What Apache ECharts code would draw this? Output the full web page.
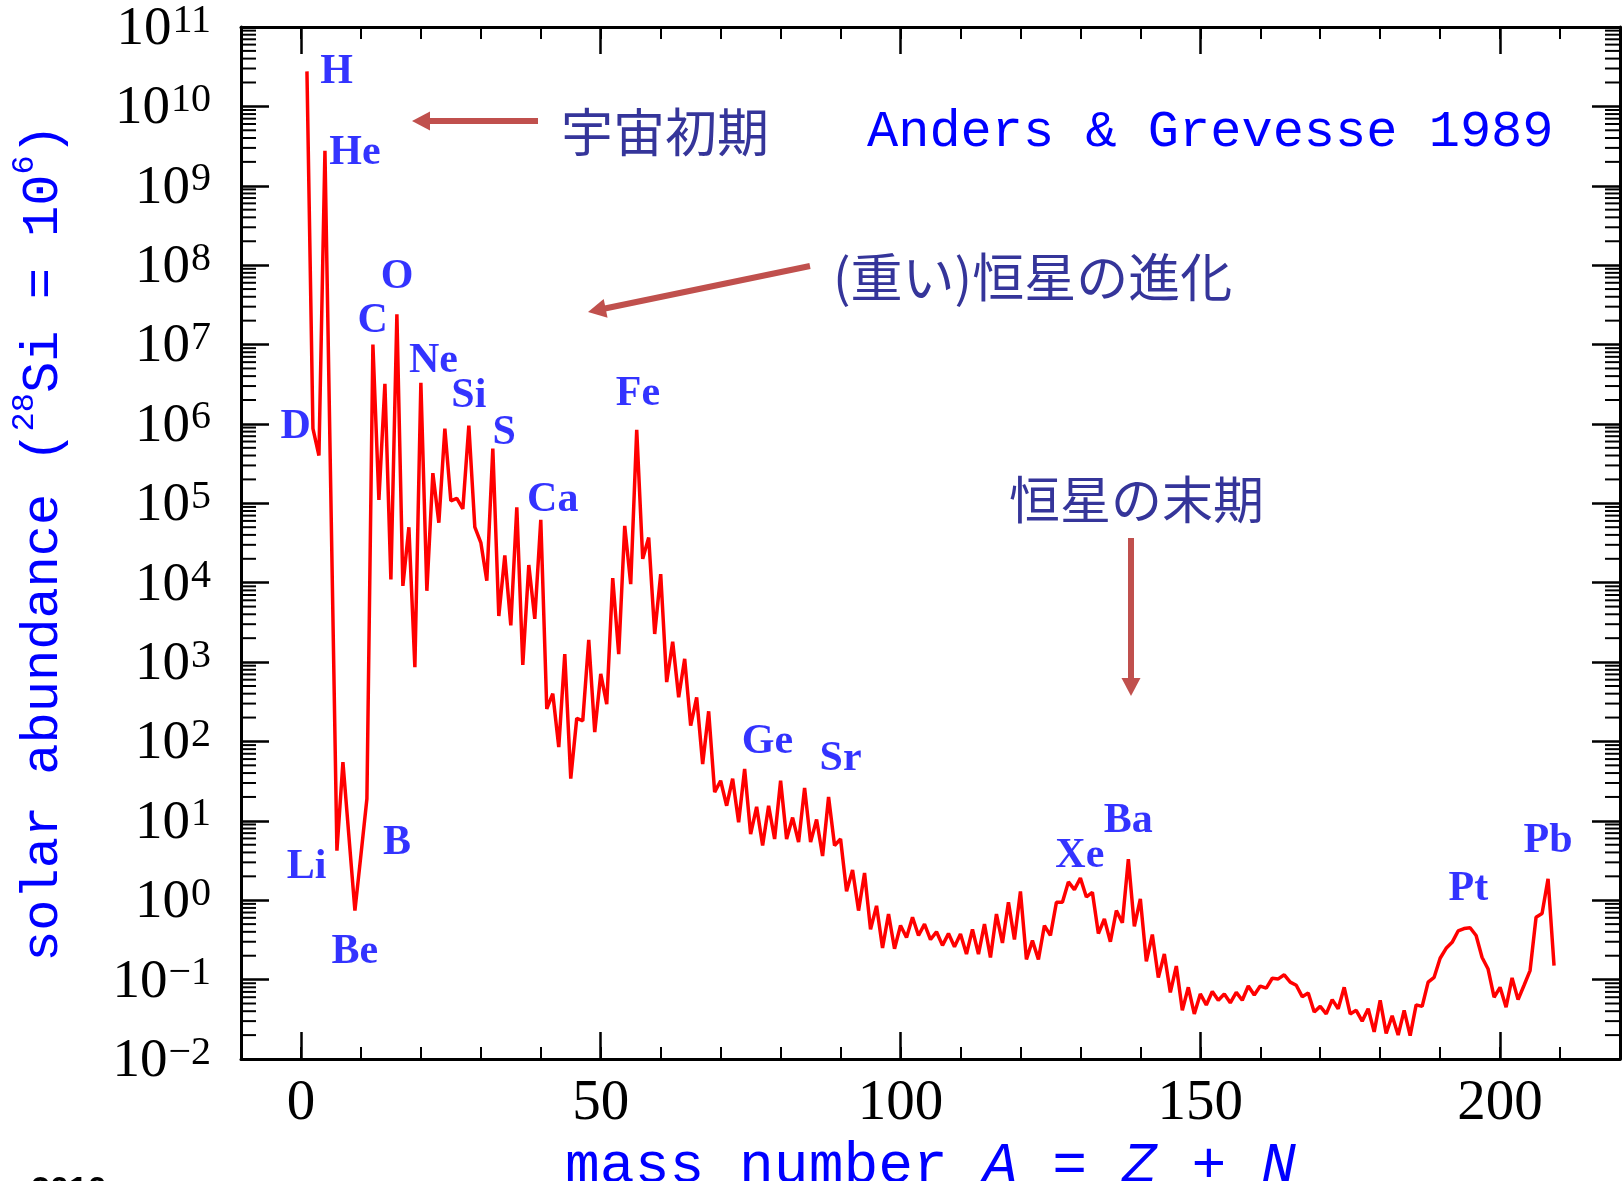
<!DOCTYPE html>
<html><head><meta charset="utf-8">
<script src="https://cdn.jsdelivr.net/npm/echarts@6/dist/echarts.min.js"></script>
<style>html,body{margin:0;padding:0;background:#fff}#c{width:1622px;height:1181px}</style>
</head><body><div id="c"></div>
<script>
// ---- data (solar abundance, Si = 1e6) ----
const massNumbers = [
  1,2,3,4,6,7,9,10,11,
  12,13,14,15,16,17,18,19,20,21,
  22,23,24,25,26,27,28,29,30,31,
  32,33,34,35,36,37,38,39,40,41,
  42,43,44,45,46,47,48,49,50,51,
  52,53,54,55,56,57,58,59,60,61,
  62,63,64,65,66,67,68,69,70,71,
  72,73,74,75,76,77,78,79,80,81,
  82,83,84,85,86,87,88,89,90,91,
  92,93,94,95,96,97,98,99,100,101,
  102,103,104,105,106,107,108,109,110,111,
  112,113,114,115,116,117,118,119,120,121,
  122,123,124,125,126,127,128,129,130,131,
  132,133,134,135,136,137,138,139,140,141,
  142,143,144,145,146,147,148,149,150,151,
  152,153,154,155,156,157,158,159,160,161,
  162,163,164,165,166,167,168,169,170,171,
  172,173,174,175,176,177,178,179,180,181,
  182,183,184,185,186,187,188,189,190,191,
  192,193,194,195,196,197,198,199,200,201,
  202,203,204,205,206,207,208,209
];
const abundances = [
  2.76e10, 8.7e5, 4.0e5, 2.75e9, 4.2, 55, 0.74, 3.7, 19,
  1.0e7, 1.1e5, 3.2e6, 1.1e4, 2.4e7, 9.1e3, 5.0e4, 860, 3.3e6, 7.9e3,
  2.4e5, 5.7e4, 8.7e5, 1.07e5, 1.15e5, 8.5e4, 9.5e5, 5.0e4, 3.2e4, 1.06e4,
  4.9e5, 3.8e3, 2.2e4, 2.9e3, 8.9e4, 920, 1.67e4, 3.5e3, 6.2e4, 257,
  400, 85, 1260, 34, 196, 182, 1900, 131, 710, 296,
  1.14e4, 1260, 5.2e4, 9600, 8.4e5, 2.0e4, 3.7e4, 2260, 1.28e4, 560,
  1800, 360, 1100, 158, 360, 52, 240, 23, 32, 15.5,
  34, 9.6, 45, 6.8, 15, 4.9, 15.5, 5.9, 32, 5.9,
  11, 5.4, 26, 5.4, 10.4, 3.6, 20, 4.9, 5.9, 1.3,
  2.4, 0.74, 2.2, 0.43, 0.85, 0.25, 0.67, 0.245, 0.48, 0.34,
  0.61, 0.36, 0.50, 0.32, 0.40, 0.27, 0.38, 0.26, 0.375, 0.21,
  0.43, 0.21, 0.50, 0.19, 0.67, 0.29, 0.94, 0.32, 1.29, 0.18,
  0.31, 0.18, 0.48, 0.36, 0.94, 0.94, 1.7, 1.36, 1.9, 1.1,
  1.26, 0.38, 0.58, 0.30, 0.74, 0.52, 3.3, 0.47, 1.04, 0.17,
  0.37, 0.106, 0.21, 0.069, 0.148, 0.041, 0.080, 0.037, 0.066, 0.048,
  0.071, 0.055, 0.066, 0.051, 0.069, 0.055, 0.083, 0.064, 0.083, 0.078,
  0.104, 0.102, 0.115, 0.093, 0.085, 0.061, 0.068, 0.039, 0.046, 0.037,
  0.056, 0.043, 0.080, 0.037, 0.041, 0.030, 0.043, 0.022, 0.055, 0.021,
  0.035, 0.020, 0.041, 0.0197, 0.048, 0.046, 0.093, 0.107, 0.186, 0.248,
  0.295, 0.41, 0.44, 0.45, 0.36, 0.19, 0.136, 0.060, 0.080, 0.045,
  0.105, 0.056, 0.085, 0.13, 0.61, 0.68, 1.86, 0.15
];
// element labels (anchored in data space)
const elementNames = ['H','He','D','Li','Be','B','C','O','Ne','Si','S','Ca','Fe','Ge','Sr','Xe','Ba','Pt','Pb'];
const elementLabelA = [5.95, 9.0, -0.9, 0.95, 9.0, 16.0, 11.95, 16.05, 22.1, 28.0, 33.9, 42.0, 56.2, 77.8, 90.0, 129.9, 138.0, 194.7, 208.0];
const elementLabelY = [2.7e10, 2.6e9, 9.2e5, 2.6, 0.225, 5.2, 1.95e7, 7.1e7, 6.1e6, 2.25e6, 7.6e5, 1.1e5, 2.4e6, 97, 60, 3.6, 9.8, 1.38, 5.6];
// axes
const xTickValues = [0, 50, 100, 150, 200];
const xMin = -10, xMax = 220;
const yMin = 1e-2, yMax = 1e11;
const minorFactors = [2,3,4,5,6,7,8,9];

const ARROW = '#c0504d';
const JP = '#35359a';
const BLUE = '#0000ff';

const minorYTicks = [];
for (let e = -2; e < 11; e++) for (const k of minorFactors) minorYTicks.push([xMin, k * Math.pow(10, e)]);

function arrow(x1, y1, x2, y2) {
  const dx = x2 - x1, dy = y2 - y1, L = Math.hypot(dx, dy);
  const ux = dx / L, uy = dy / L, hl = 18, hw = 9.5;
  const bx = x2 - ux * hl, by = y2 - uy * hl;
  return [
    { type: 'line', shape: { x1, y1, x2: bx + ux * 2, y2: by + uy * 2 }, style: { stroke: ARROW, lineWidth: 6 }, z: 50 },
    { type: 'polygon', shape: { points: [[x2, y2], [bx - uy * hw, by + ux * hw], [bx + uy * hw, by - ux * hw]] }, style: { fill: ARROW }, z: 50 }
  ];
}
function gtext(text, x, y, font, color, align) {
  return { type: 'text', x: x, y: y, z: 50, style: { text, font, fill: color, textAlign: align || 'left', textVerticalAlign: 'middle' } };
}

const chart = echarts.init(document.getElementById('c'), null, { renderer: 'canvas' });
const axLine = { onZero: false, lineStyle: { color: '#000', width: 3 } };
const noLine = { show: false, onZero: false };
const yLabelRich = {
  b: { fontFamily: 'Liberation Serif', fontSize: 55, color: '#000', lineHeight: 60, verticalAlign: 'bottom' },
  s: { fontFamily: 'Liberation Serif', fontSize: 40, color: '#000', lineHeight: 40, verticalAlign: 'top', padding: [4, 0, 0, 1] }
};
const option = {
  animation: false,
  backgroundColor: '#fff',
  grid: { left: 241, right: 2, top: 27, bottom: 122, containLabel: false, outerBoundsMode: 'none' },
  xAxis: [
    { type: 'value', min: xMin, max: xMax, interval: 10, position: 'bottom',
      axisLine: axLine, splitLine: { show: false },
      axisTick: { inside: true, length: 12, lineStyle: { color: '#000', width: 2 } },
      axisLabel: { customValues: xTickValues, fontFamily: 'Liberation Serif', fontSize: 57, color: '#000', margin: 17 },
      name: '{m|mass number }{i|A}{m| = }{i|Z}{m| + }{i|N}', nameLocation: 'middle', nameGap: 78,
      nameTextStyle: { color: BLUE, rich: {
        m: { fontFamily: 'Liberation Mono', fontSize: 58, color: BLUE },
        i: { fontFamily: 'Liberation Mono', fontStyle: 'italic', fontSize: 58, color: BLUE } } } },
    { type: 'value', min: xMin, max: xMax, position: 'bottom', axisLine: noLine, splitLine: { show: false },
      axisTick: { customValues: xTickValues, inside: true, length: 27, lineStyle: { color: '#000', width: 2.5 } },
      axisLabel: { show: false } },
    { type: 'value', min: xMin, max: xMax, interval: 10, position: 'top',
      axisLine: axLine, splitLine: { show: false },
      axisTick: { inside: true, length: 12, lineStyle: { color: '#000', width: 2 } },
      axisLabel: { show: false } },
    { type: 'value', min: xMin, max: xMax, position: 'top', axisLine: noLine, splitLine: { show: false },
      axisTick: { customValues: xTickValues, inside: true, length: 27, lineStyle: { color: '#000', width: 2.5 } },
      axisLabel: { show: false } }
  ],
  yAxis: [
    { type: 'log', logBase: 10, min: yMin, max: yMax, interval: 1, position: 'left',
      axisLine: axLine, splitLine: { show: false }, minorTick: { show: false },
      axisTick: { inside: true, length: 28, lineStyle: { color: '#000', width: 2.5 } },
      axisLabel: { margin: 30, align: 'right',
        formatter: function (v) { const e = Math.round(Math.log10(v)); return '{b|10}{s|' + (e < 0 ? '\u2212' + (-e) : e) + '}'; },
        rich: yLabelRich },
      name: '{m|solar abundance (}{s|28}{m|Si = 10}{s|6}{m|)}', nameLocation: 'middle', nameRotate: 90, nameGap: 172,
      nameTextStyle: { color: BLUE, rich: {
        m: { fontFamily: 'Liberation Mono', fontSize: 52, color: BLUE, lineHeight: 60, verticalAlign: 'bottom' },
        s: { fontFamily: 'Liberation Mono', fontSize: 32, color: BLUE, lineHeight: 32, verticalAlign: 'top' } } } },
    { type: 'log', logBase: 10, min: yMin, max: yMax, interval: 1, position: 'right',
      axisLine: axLine, splitLine: { show: false },
      axisTick: { inside: true, length: 28, lineStyle: { color: '#000', width: 2.5 } },
      axisLabel: { show: false } }
  ],
  series: [
    { type: 'line', name: 'abundance', xAxisIndex: 0, yAxisIndex: 0,
      data: massNumbers.map((a, i) => [a, abundances[i]]),
      showSymbol: false, symbol: 'none', lineStyle: { color: '#ff0000', width: 3.5 }, z: 10 },
    { type: 'scatter', name: 'elements', xAxisIndex: 0, yAxisIndex: 0,
      data: elementNames.map((n, i) => ({ name: n, value: [elementLabelA[i], elementLabelY[i]] })),
      symbolSize: 1, itemStyle: { color: 'rgba(0,0,0,0)' }, z: 20,
      label: { show: true, position: 'inside', formatter: '{b}', fontFamily: 'Liberation Serif', fontWeight: 'bold', fontSize: 42, color: BLUE } },
    { type: 'custom', name: 'minorTicks', xAxisIndex: 0, yAxisIndex: 0, data: minorYTicks, silent: true, z: 5, clip: false,
      renderItem: function (params, api) {
        const v = api.value(1);
        const pl = api.coord([xMin, v]);
        const pr = api.coord([xMax, v]);
        return { type: 'group', children: [
          { type: 'line', shape: { x1: pl[0], y1: pl[1], x2: pl[0] + 15, y2: pl[1] }, style: { stroke: '#000', lineWidth: 2 } },
          { type: 'line', shape: { x1: pr[0] - 15, y1: pr[1], x2: pr[0], y2: pr[1] }, style: { stroke: '#000', lineWidth: 2 } }
        ] };
      } }
  ],
  graphic: [].concat(
    arrow(538, 121, 412, 121),
    arrow(810, 266, 588, 312),
    arrow(1131, 538, 1131, 696),
    [
      gtext('宇宙初期', 561, 132, '52px "Noto Sans CJK JP"', JP),
      gtext('Anders & Grevesse 1989', 867, 132, '52px "Liberation Mono"', BLUE),
      gtext('(重い)恒星の進化', 833, 277, '52px "Noto Sans CJK JP"', JP),
      gtext('恒星の末期', 1009, 500, '51px "Noto Sans CJK JP"', JP),
      { type: 'text', x: 31, y: 1174, z: 50, style: { text: '2010', font: 'bold 34px "Liberation Sans"', fill: '#000', textVerticalAlign: 'top' } }
    ]
  )
};
chart.setOption(option);
</script>
</body></html>
